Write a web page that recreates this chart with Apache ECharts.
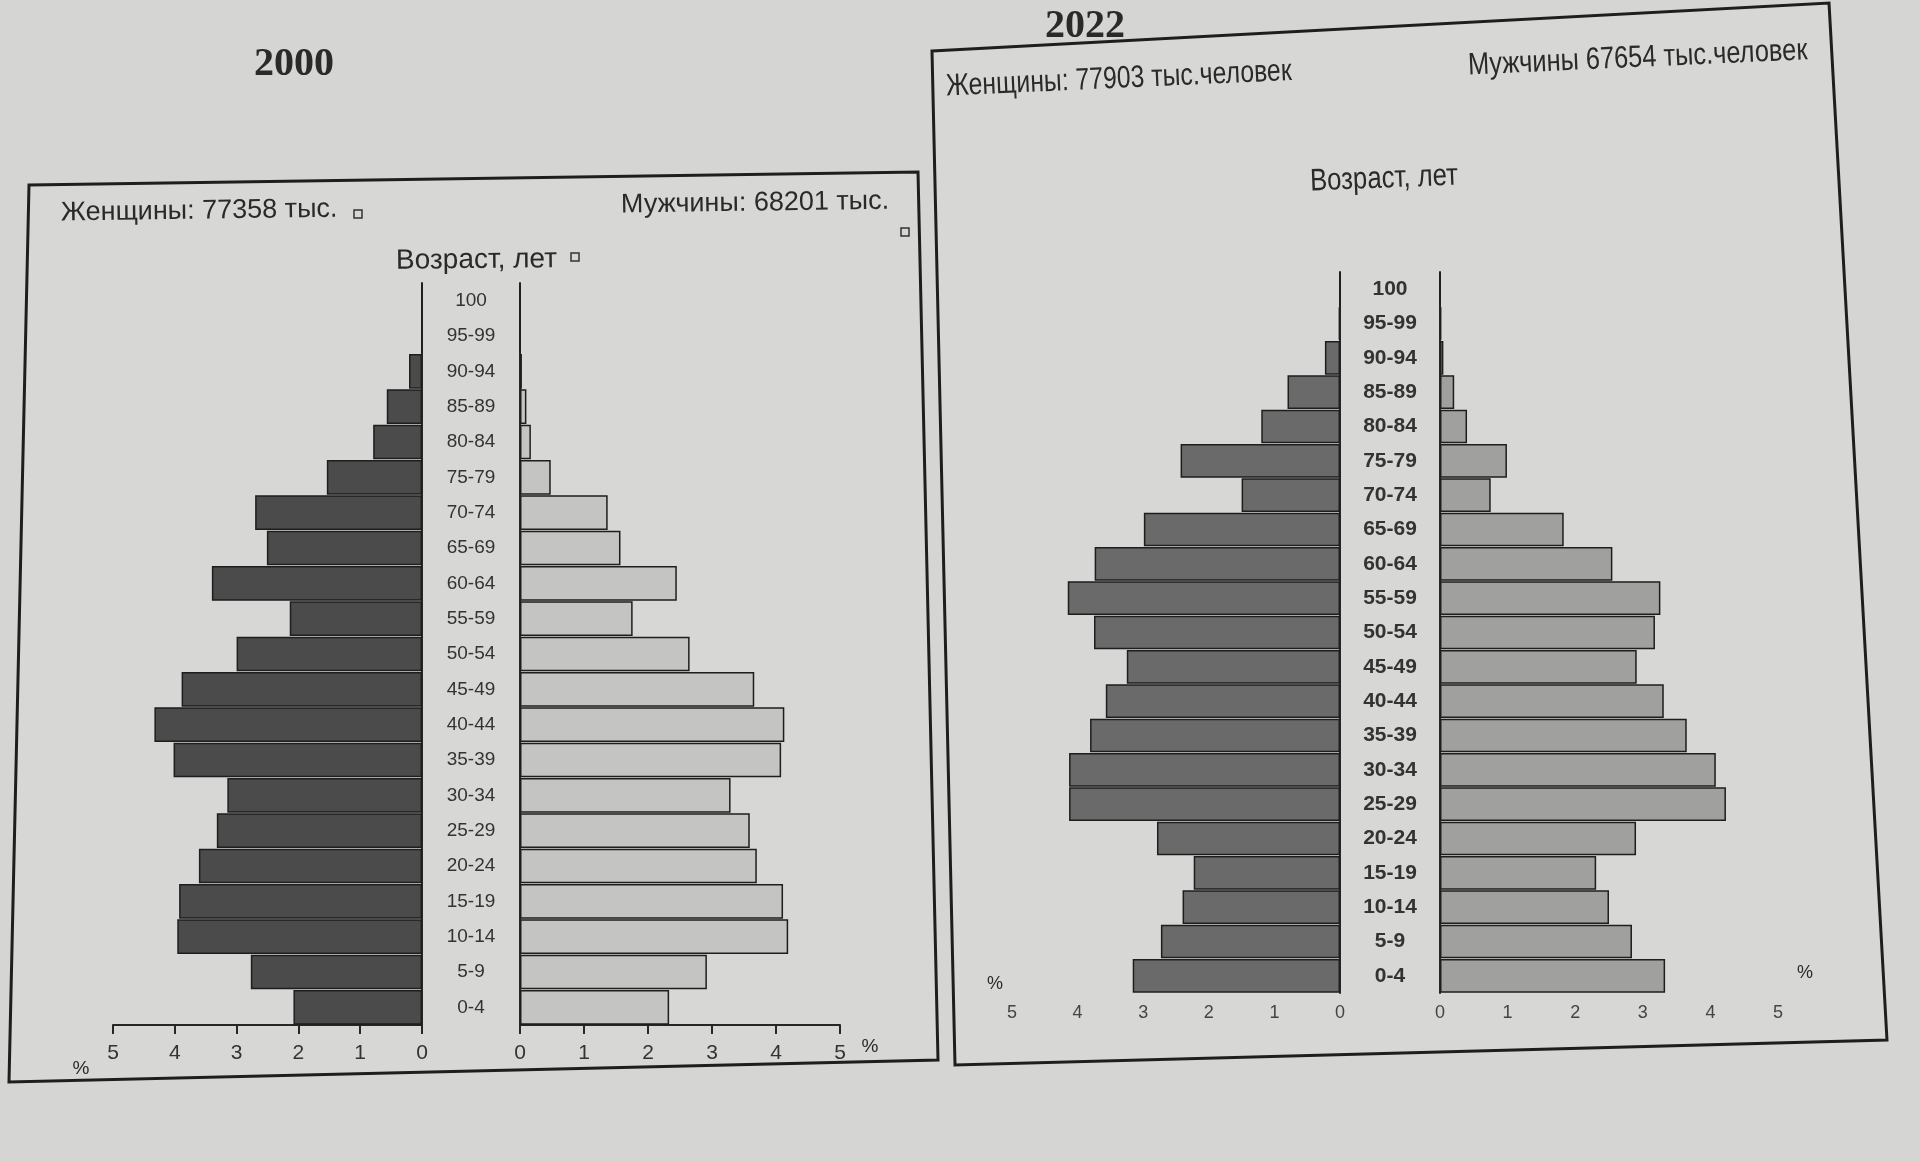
<!DOCTYPE html>
<html>
<head>
<meta charset="utf-8">
<script src="https://cdn.jsdelivr.net/npm/echarts@6/dist/echarts.min.js"></script>
<style>html,body{margin:0;padding:0;background:#d5d5d3;}#c{width:1920px;height:1162px;}</style>
</head>
<body>
<div id="c"></div>
<script>
const ages = ['0-4','5-9','10-14','15-19','20-24','25-29','30-34','35-39','40-44','45-49','50-54','55-59','60-64','65-69','70-74','75-79','80-84','85-89','90-94','95-99','100'];
const women2000 = [2.08, 2.77, 3.96, 3.93, 3.61, 3.32, 3.15, 4.02, 4.33, 3.89, 3.00, 2.14, 3.40, 2.51, 2.70, 1.54, 0.79, 0.57, 0.21, 0, 0];
const men2000   = [2.33, 2.92, 4.19, 4.11, 3.70, 3.59, 3.29, 4.08, 4.13, 3.66, 2.65, 1.76, 2.45, 1.57, 1.37, 0.48, 0.17, 0.10, 0.03, 0, 0];
const women2022 = [3.16, 2.73, 2.40, 2.23, 2.79, 4.13, 4.13, 3.81, 3.57, 3.25, 3.75, 4.15, 3.74, 2.99, 1.50, 2.43, 1.20, 0.80, 0.23, 0.02, 0];
const men2022   = [3.33, 2.84, 2.50, 2.31, 2.90, 4.23, 4.08, 3.65, 3.31, 2.91, 3.18, 3.26, 2.55, 1.83, 0.75, 0.99, 0.40, 0.21, 0.05, 0.02, 0];
const titles = ['2000', '2022'];
const head2000 = ['Женщины: 77358 тыс.', 'Мужчины: 68201 тыс.', 'Возраст, лет'];
const head2022 = ['Женщины: 77903 тыс.человек', 'Мужчины 67654 тыс.человек', 'Возраст, лет'];

const SANS = "'Liberation Sans', Arial, sans-serif";
const INK = '#262626';

function xAx(grid, inverse, old) {
  return {
    gridIndex: grid, type: 'value', inverse: inverse, min: 0, max: 5, interval: 1,
    axisLine: { show: old, lineStyle: { color: INK, width: 2 } },
    axisTick: { show: old, length: 9, lineStyle: { color: INK, width: 2 } },
    axisLabel: old ? { fontSize: 21, color: '#333', margin: 18, fontFamily: SANS }
                   : { fontSize: 18, color: '#444', margin: 11, fontFamily: SANS },
    splitLine: { show: false }
  };
}
function yAx(grid, pos, labels, old) {
  return {
    gridIndex: grid, type: 'category', data: ages, position: pos,
    axisLine: { show: true, onZero: false, lineStyle: { color: INK, width: 2 } },
    axisTick: { show: false },
    axisLabel: labels ? {
      show: true, margin: old ? 49 : 50, align: 'center',
      fontSize: old ? 19 : 21, fontWeight: old ? 'normal' : 'bold',
      color: '#333', fontFamily: SANS
    } : { show: false },
    splitLine: { show: false }
  };
}
function bar(i, data, color) {
  return {
    type: 'bar', xAxisIndex: i, yAxisIndex: i, data: data, barCategoryGap: '2%',
    itemStyle: { color: color, borderColor: '#1e1e1e', borderWidth: 1.5 },
    silent: true
  };
}
function txt(x, y, text, font, rot, align, sx) {
  return { type: 'text', x: x, y: y, rotation: rot || 0, scaleX: sx || 1,
    style: { text: text, x: 0, y: 0, font: font, fill: '#2a2a2a',
      textAlign: align || 'left', align: align || 'left',
      textVerticalAlign: 'middle', verticalAlign: 'middle' } };
}
function sq(x, y) {
  return { type: 'rect', shape: { x: x, y: y, width: 8, height: 8 },
    style: { fill: 'none', stroke: '#333', lineWidth: 1.5 } };
}

const chart = echarts.init(document.getElementById('c'));
chart.setOption({
  backgroundColor: '#d5d5d3',
  animation: false,
  grid: [
    { left: 113, top: 283, width: 309, height: 742 },
    { left: 520, top: 283, width: 320, height: 742 },
    { left: 1012, top: 272, width: 328, height: 721 },
    { left: 1440, top: 272, width: 338, height: 721 }
  ],
  xAxis: [ xAx(0, true, true), xAx(1, false, true), xAx(2, true, false), xAx(3, false, false) ],
  yAxis: [ yAx(0, 'right', true, true), yAx(1, 'left', false, true),
           yAx(2, 'right', true, false), yAx(3, 'left', false, false) ],
  series: [
    bar(0, women2000, '#4b4b4b'),
    bar(1, men2000, '#c4c4c2'),
    bar(2, women2022, '#6a6a6a'),
    bar(3, men2022, '#a0a09e')
  ],
  graphic: [
    { type: 'polygon', shape: { points: [[29,185],[918,172],[938,1060],[9,1082]] },
      style: { fill: 'rgba(255,255,255,0.06)', stroke: '#1e1e1e', lineWidth: 3 }, z: -1 },
    { type: 'polygon', shape: { points: [[932,51],[1829,3],[1887,1040],[955,1065]] },
      style: { fill: 'rgba(255,255,255,0.06)', stroke: '#1e1e1e', lineWidth: 3 }, z: -1 },
    txt(294, 65, titles[0], "bold 40px 'Liberation Serif', serif", 0, 'center'),
    txt(1085, 27, titles[1], "bold 40px 'Liberation Serif', serif", 0, 'center'),
    txt(61, 213, head2000[0], '27px ' + SANS, 0.014),
    sq(354, 210),
    txt(621, 205, head2000[1], '27px ' + SANS, 0.014),
    sq(901, 228),
    txt(396, 261, head2000[2], '28px ' + SANS, 0.01),
    sq(571, 253),
    txt(946, 87, head2022[0], '31px ' + SANS, 0.045, 'left', 0.8),
    txt(1468, 66, head2022[1], '31px ' + SANS, 0.045, 'left', 0.82),
    txt(1384, 179, head2022[2], '31px ' + SANS, 0.04, 'center', 0.83),
    txt(81, 1069, '%', '19px ' + SANS, 0, 'center'),
    txt(870, 1047, '%', '19px ' + SANS, 0, 'center'),
    txt(995, 984, '%', '18px ' + SANS, 0, 'center'),
    txt(1805, 973, '%', '18px ' + SANS, 0, 'center')
  ]
});
</script>
</body>
</html>
